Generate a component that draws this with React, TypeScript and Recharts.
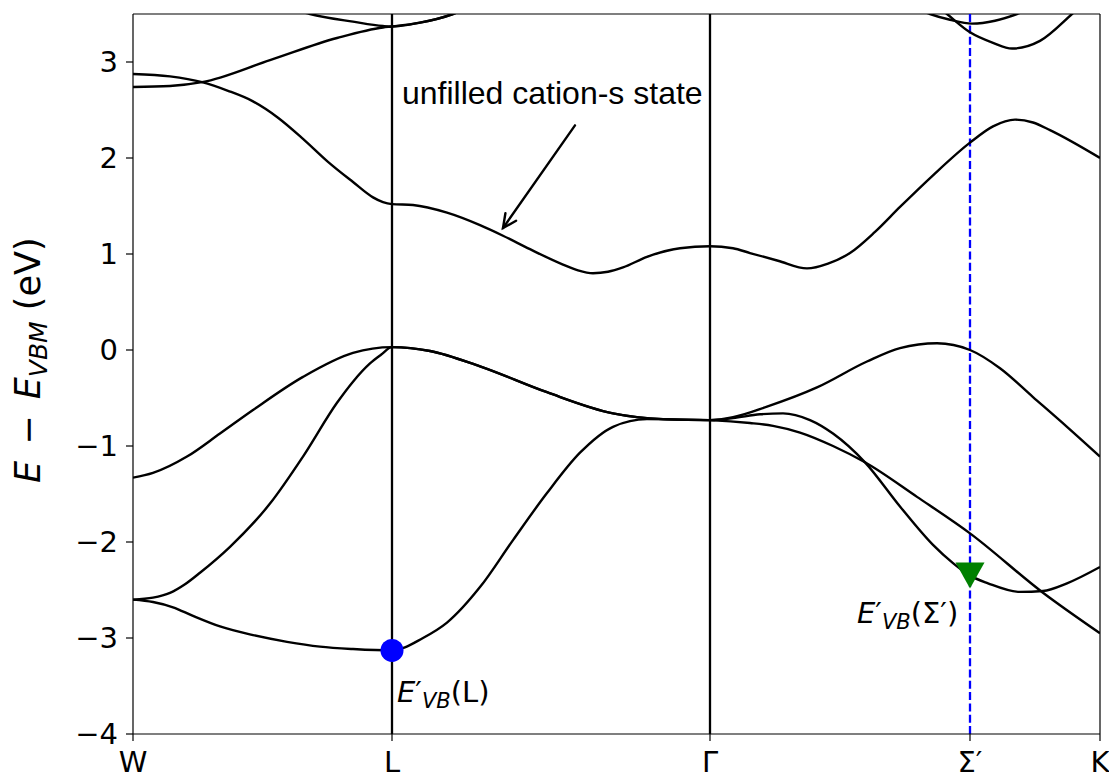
import { ComposedChart, Line, Scatter, XAxis, YAxis, ReferenceLine, ReferenceDot } from 'recharts'

// high-symmetry points along the k-path
const kLabels = ['W', 'L', 'Γ', 'Σ′', 'K']
const kTicks = [0, 2.59, 5.77, 8.37, 9.67]
const eTicks = [-4, -3, -2, -1, 0, 1, 2, 3]

// bands as [k, E - E_VBM] pairs
const band1 = [
  [0, -2.6], [0.2, -2.625], [0.4, -2.68], [0.6, -2.77], [0.87, -2.88], [1.2, -2.97], [1.54, -3.04], [1.87, -3.09],
  [2.2, -3.115], [2.59, -3.13], [2.9, -3.0], [3.14, -2.84], [3.47, -2.47], [3.8, -1.98], [4.14, -1.49], [4.47, -1.07],
  [4.8, -0.8], [5.14, -0.72], [5.77, -0.73], [6.0, -0.71], [6.27, -0.67], [6.5, -0.66], [6.77, -0.73], [7.0, -0.87],
  [7.32, -1.17], [7.67, -1.63], [8.0, -2.03], [8.2, -2.22], [8.37, -2.35], [8.55, -2.43], [8.87, -2.52], [9.1, -2.51],
  [9.34, -2.43], [9.67, -2.26],
]
const band2 = [
  [0, -2.6], [0.2, -2.58], [0.37, -2.53], [0.52, -2.44], [0.67, -2.32], [0.97, -2.05], [1.37, -1.6], [1.7, -1.11],
  [2.04, -0.55], [2.2, -0.33], [2.37, -0.14], [2.48, -0.05], [2.59, 0.03], [2.97, -0.01], [3.47, -0.17], [4.14, -0.44],
  [4.8, -0.66], [5.3, -0.72], [5.77, -0.73], [6.17, -0.76], [6.4, -0.79], [6.67, -0.86], [7.0, -1.0], [7.32, -1.17],
  [7.84, -1.53], [8.37, -1.91], [9.09, -2.52], [9.67, -2.95],
]
const band3 = [
  [0, -1.33], [0.2, -1.28], [0.54, -1.11], [0.87, -0.87], [1.2, -0.625], [1.7, -0.28], [2.2, -0.03], [2.59, 0.03],
  [2.97, -0.01], [3.47, -0.17], [4.14, -0.44], [4.8, -0.66], [5.3, -0.72], [5.77, -0.73],
  [6.0, -0.7], [6.34, -0.59], [6.84, -0.39], [7.34, -0.12], [7.67, 0.02], [8.04, 0.07], [8.37, 0.0], [8.67, -0.19],
  [9.0, -0.49], [9.34, -0.8], [9.67, -1.11],
]
const band4 = [
  [0, 2.875], [0.37, 2.85], [0.69, 2.79], [0.95, 2.7], [1.2, 2.59], [1.45, 2.42], [1.7, 2.2], [1.95, 1.96],
  [2.2, 1.75], [2.4, 1.59], [2.5, 1.54], [2.59, 1.52], [2.8, 1.51], [3.14, 1.43], [3.47, 1.3], [3.7, 1.19],
  [3.97, 1.05], [4.3, 0.89], [4.45, 0.83], [4.6, 0.8], [4.75, 0.815], [4.9, 0.86], [5.14, 0.97], [5.47, 1.06],
  [5.77, 1.08], [6.0, 1.06], [6.17, 1.01], [6.45, 0.93], [6.74, 0.85], [6.95, 0.9], [7.17, 1.01], [7.42, 1.23],
  [7.67, 1.49], [8.0, 1.82], [8.37, 2.16], [8.6, 2.33], [8.82, 2.4], [9.0, 2.37], [9.17, 2.29], [9.67, 2.0],
]
const band5 = [
  [0, 2.74], [0.37, 2.75], [0.69, 2.79], [1.37, 3.02], [2.04, 3.25], [2.5, 3.36], [2.59, 3.37], [2.87, 3.41],
  [3.2, 3.5], [3.6, 3.7],
]
const band6 = [[1.4, 3.62], [1.77, 3.5], [2.2, 3.42], [2.5, 3.375], [2.59, 3.37], [2.87, 3.41], [3.2, 3.5], [3.6, 3.7]]
const band7 = [[7.7, 3.62], [7.97, 3.5], [8.17, 3.44], [8.39, 3.4], [8.62, 3.43], [8.84, 3.5], [9.1, 3.62]]
const band8 = [[7.95, 3.66], [8.14, 3.5], [8.37, 3.31], [8.6, 3.2], [8.79, 3.14], [9.07, 3.22], [9.39, 3.5], [9.6, 3.7]]

// E'_VB at L and at Σ'
const vbmL = [[2.59, -3.13]]
const vbmSigma = [[8.37, -2.35]]

const toPts = (arr: number[][]) => arr.map(([k, e]) => ({ k, e }))
const bands = [band1, band2, band3, band4, band5, band6, band7, band8].map(toPts)

const FONT = 'DejaVu Sans'

const BlueDot = (p: any) => <circle cx={p.cx} cy={p.cy} r={11.5} fill="#0000ff" />
const GreenTriangle = (p: any) => (
  <path d={`M${p.cx - 14.5},${p.cy - 13}L${p.cx + 14.5},${p.cy - 13}L${p.cx},${p.cy + 13}Z`} fill="#008000" />
)

// full-height guide line at a k-point
const vline = (color: string, dash?: string) => (p: any) => (
  <line x1={p.x1} y1={p.y1} x2={p.x2} y2={p.y2} stroke={color} strokeWidth={2.3} strokeDasharray={dash} />
)

function vbLabel(point: string) {
  return (p: any) => (
    <text x={p.cx} y={p.cy} fontFamily={FONT} fontSize={29} fill="#000">
      <tspan fontStyle="italic">E</tspan>
      <tspan>′</tspan>
      <tspan fontStyle="italic" fontSize={21} dy={6}>VB</tspan>
      <tspan dy={-6}>({point})</tspan>
    </text>
  )
}

const noteText = (p: any) => (
  <text x={p.cx} y={p.cy} fontFamily="Liberation Sans" fontSize={32} fill="#000">
    unfilled cation-s state
  </text>
)

const Arrow = (p: any) => {
  const { x1, y1, x2, y2 } = p
  const a = Math.atan2(y2 - y1, x2 - x1)
  const len = 15
  const spread = 0.45
  const ax = x2 - len * Math.cos(a - spread)
  const ay = y2 - len * Math.sin(a - spread)
  const bx = x2 - len * Math.cos(a + spread)
  const by = y2 - len * Math.sin(a + spread)
  return (
    <g stroke="#000" strokeWidth={2.4} fill="none" strokeLinecap="round">
      <line x1={x1} y1={y1} x2={x2} y2={y2} />
      <polyline points={`${ax},${ay} ${x2},${y2} ${bx},${by}`} />
    </g>
  )
}

const YLabel = () => (
  <text x={32} y={475} transform="rotate(-90 32 475)" fontFamily={FONT} fontSize={35} fill="#000">
    <tspan fontStyle="italic">E</tspan>
    <tspan dx={5}> − </tspan>
    <tspan fontStyle="italic" dx={5}>E</tspan>
    <tspan fontStyle="italic" fontSize={25} dy={7}>VBM</tspan>
    <tspan dy={-7}> (eV)</tspan>
  </text>
)

export default function App() {
  const tick = { fontSize: 29, fill: '#000', fontFamily: FONT }
  return (
    <div style={{ width: 1109, height: 774 }}>
      <ComposedChart width={1109} height={774} margin={{ top: 6, right: 17, bottom: 0, left: 0 }}>
        <XAxis
          type="number"
          dataKey="k"
          domain={[0, 9.67]}
          ticks={kTicks}
          interval={0}
          allowDataOverflow
          tickFormatter={(v: number) => kLabels[kTicks.indexOf(v)]}
          height={48}
          tick={tick}
          tickSize={7}
          tickMargin={10}
          axisLine={{ stroke: '#000', strokeWidth: 1.2 }}
          tickLine={{ stroke: '#000', strokeWidth: 1.2 }}
        />
        <YAxis
          type="number"
          dataKey="e"
          domain={[-4, 3.5]}
          ticks={eTicks}
          interval={0}
          allowDataOverflow
          width={125}
          tick={tick}
          tickSize={7}
          tickMargin={8}
          tickFormatter={(v: number) => String(v).replace('-', '−')}
          axisLine={{ stroke: '#000', strokeWidth: 1.2 }}
          tickLine={{ stroke: '#000', strokeWidth: 1.2 }}
          label={{ content: YLabel }}
        />
        <ReferenceLine y={3.5} stroke="#000" strokeWidth={1.2} />
        <ReferenceLine x={9.67} stroke="#000" strokeWidth={1.2} />
        <ReferenceLine x={kTicks[1]} shape={vline('#000')} />
        <ReferenceLine x={kTicks[2]} shape={vline('#000')} />
        <ReferenceLine x={kTicks[3]} shape={vline('#0000ff', '8 3.3')} />
        {bands.map((d, i) => (
          <Line
            key={i}
            data={d}
            dataKey="e"
            type="monotone"
            stroke="#000"
            strokeWidth={2.4}
            dot={false}
            activeDot={false}
            isAnimationActive={false}
          />
        ))}
        <Scatter data={toPts(vbmL)} dataKey="e" shape={BlueDot} isAnimationActive={false} />
        <Scatter data={toPts(vbmSigma)} dataKey="e" shape={GreenTriangle} isAnimationActive={false} />
        <ReferenceDot x={2.64} y={-3.67} r={0} shape={vbLabel('L')} />
        <ReferenceDot x={7.24} y={-2.84} r={0} shape={vbLabel('Σ′')} />
        <ReferenceDot x={2.69} y={2.56} r={0} shape={noteText} />
        <ReferenceLine segment={[{ x: 4.42, y: 2.34 }, { x: 3.7, y: 1.27 }]} shape={Arrow} />
      </ComposedChart>
    </div>
  )
}
